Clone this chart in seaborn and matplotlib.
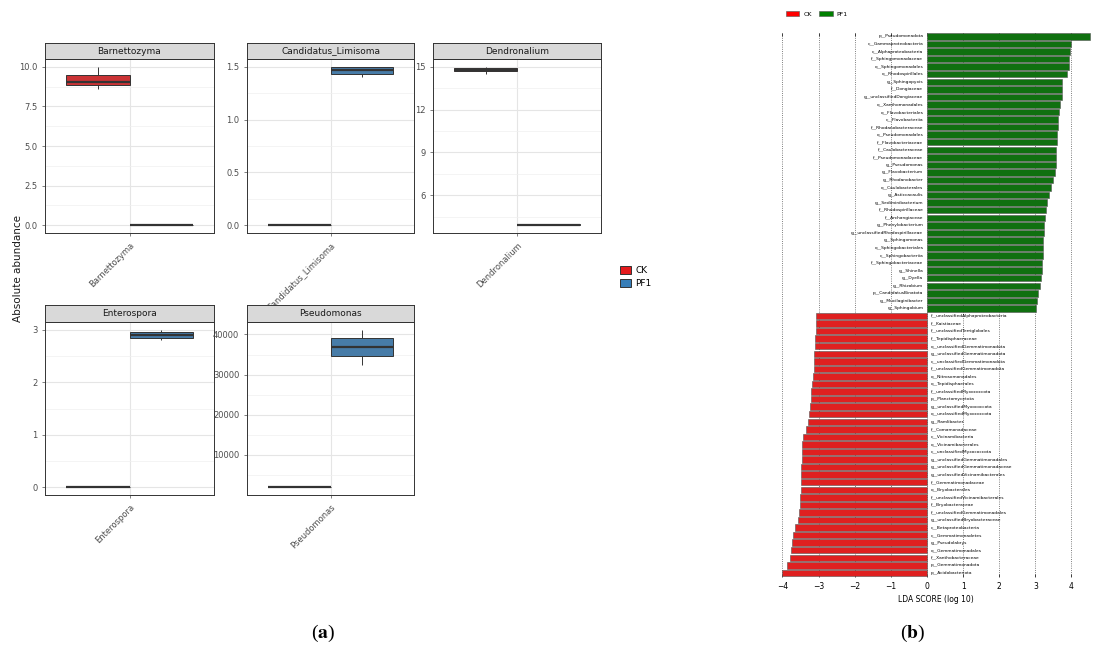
import numpy as np
import pandas as pd
import seaborn as sns
import matplotlib.pyplot as plt
from matplotlib.patches import Patch

# ---- panel (a): abundance per genus, five-number values per group ----
genera = ['Barnettozyma', 'Candidatus_Limisoma', 'Dendronalium', 'Enterospora', 'Pseudomonas']
ck_values = [
    [8.6, 8.85, 9.05, 9.5, 10.0],
    [0.0, 0.0, 0.0, 0.0, 0.0],
    [14.5, 14.7, 14.8, 14.9, 15.0],
    [0.0, 0.0, 0.0, 0.0, 0.0],
    [1950, 1980, 2000, 2020, 2050],
]
pf1_values = [
    [0.0, 0.0, 0.0, 0.0, 0.0],
    [1.40, 1.437, 1.47, 1.50, 1.50],
    [3.90, 3.92, 3.93, 3.95, 3.96],
    [2.80, 2.847, 2.90, 2.954, 3.0],
    [32400, 34600, 36900, 39100, 41150],
]
ytick_sets = [
    [0.0, 2.5, 5.0, 7.5, 10.0],
    [0.0, 0.5, 1.0, 1.5],
    [6, 9, 12, 15],
    [0, 1, 2, 3],
    [10000, 20000, 30000, 40000],
]
ytick_fmt = ['{:.1f}', '{:.1f}', '{:d}', '{:d}', '{:d}']

# ---- panel (b): LDA scores ----
pf1_features = ['p__Pseudomonadota', 'c__Gammaproteobacteria', 'c__Alphaproteobacteria',
                'f__Sphingomonadaceae', 'o__Sphingomonadales', 'o__Rhodospirillales',
                'g__Sphingopyxis', 'f__Dongiaceae', 'g__unclassifiedDongiaceae',
                'o__Xanthomonadales', 'o__Flavobacteriales', 'c__Flavobacteriia',
                'f__Rhodanobacteraceae', 'o__Pseudomonadales', 'f__Flavobacteriaceae',
                'f__Caulobacteraceae', 'f__Pseudomonadaceae', 'g__Pseudomonas',
                'g__Flavobacterium', 'g__Rhodanobacter', 'o__Caulobacterales',
                'g__Asticcacaulis', 'g__Sediminibacterium', 'f__Rhodospirillaceae',
                'f__Archangiaceae', 'g__Phenylobacterium', 'g__unclassifiedRhodospirillaceae',
                'g__Sphingomonas', 'o__Sphingobacteriales', 'c__Sphingobacteriia',
                'f__Sphingobacteriaceae', 'g__Shinella', 'g__Dyella', 'g__Rhizobium',
                'p__CandidatusBinatota', 'g__Mucilaginibacter', 'g__Sphingobium']
pf1_lda = [4.50, 3.98, 3.96, 3.94, 3.93, 3.88, 3.75, 3.74, 3.73, 3.68, 3.66, 3.64,
           3.62, 3.60, 3.59, 3.58, 3.57, 3.56, 3.54, 3.50, 3.42, 3.37, 3.33, 3.29,
           3.26, 3.25, 3.23, 3.22, 3.20, 3.20, 3.19, 3.17, 3.16, 3.14, 3.08, 3.05, 3.02]

ck_features = ['f__unclassifiedAlphaproteobacteria', 'f__Kaistiaceae', 'f__unclassifiedTerriglobales',
               'f__Tepidisphaeraceae', 'o__unclassifiedGemmatimonadota', 'g__unclassifiedGemmatimonadota',
               'c__unclassifiedGemmatimonadota', 'f__unclassifiedGemmatimonadota', 'o__Nitrosomonadales',
               'o__Tepidisphaerales', 'f__unclassifiedMyxococcota', 'p__Planctomycetota',
               'g__unclassifiedMyxococcota', 'o__unclassifiedMyxococcota', 'g__Ramlibacter',
               'f__Comamonadaceae', 'c__Vicinamibacteria', 'o__Vicinamibacterales',
               'c__unclassifiedMyxococcota', 'g__unclassifiedGemmatimonadales',
               'g__unclassifiedGemmatimonadaceae', 'g__unclassifiedVicinamibacterales',
               'f__Gemmatimonadaceae', 'o__Bryobacterales', 'f__unclassifiedVicinamibacterales',
               'f__Bryobacteraceae', 'f__unclassifiedGemmatimonadales', 'g__unclassifiedBryobacteraceae',
               'c__Betaproteobacteria', 'c__Gemmatimonadetes', 'g__Pseudolabrys',
               'o__Gemmatimonadales', 'f__Xanthobacteraceae', 'p__Gemmatimonadota', 'p__Acidobacteriota']
ck_lda = [-3.06, -3.06, -3.08, -3.10, -3.11, -3.12, -3.13, -3.14, -3.16, -3.17, -3.20,
          -3.22, -3.25, -3.26, -3.29, -3.34, -3.44, -3.45, -3.46, -3.47, -3.48, -3.49,
          -3.50, -3.50, -3.51, -3.51, -3.53, -3.56, -3.66, -3.70, -3.73, -3.76, -3.80,
          -3.88, -4.02]

red_a, blue_a = '#E41A1C', '#377EB8'
grey_txt = '#4D4D4D'

W, H = 1105, 651
fig = plt.figure(figsize=(W / 100, H / 100), dpi=100)


def px_axes(x0, y0, x1, y1):
    return fig.add_axes([x0 / W, 1 - y1 / H, (x1 - x0) / W, (y1 - y0) / H])


# facet boxes (pixel rectangles of the panels)
cols = [(45, 214), (247, 414), (433, 601)]
rows = [(43, 59, 233), (305, 322, 495)]

for k, genus in enumerate(genera):
    r, c = divmod(k, 3)
    x0, x1 = cols[c]
    s0, s1, y1 = rows[r]
    ax = px_axes(x0, s1, x1, y1)
    df = pd.DataFrame({
        'genus': genus,
        'group': ['CK'] * len(ck_values[k]) + ['PF1'] * len(pf1_values[k]),
        'value': ck_values[k] + pf1_values[k],
    })
    sns.boxplot(data=df, x='genus', y='value', hue='group', hue_order=['CK', 'PF1'],
                palette={'CK': red_a, 'PF1': blue_a}, width=0.9, gap=0,
                showcaps=False, linecolor='#333333', linewidth=0.7,
                medianprops={'linewidth': 1.6}, fliersize=0, legend=False, ax=ax)
    ticks = ytick_sets[k]
    ax.set_yticks(ticks)
    ax.set_yticklabels([ytick_fmt[k].format(t) for t in ticks])
    minors = [(a + b) / 2 for a, b in zip(ticks[:-1], ticks[1:])]
    minors = [ticks[0] - (ticks[1] - ticks[0]) / 2] + minors + [ticks[-1] + (ticks[1] - ticks[0]) / 2]
    ax.set_yticks(minors, minor=True)
    ax.tick_params(axis='y', which='minor', length=0)
    vmin, vmax = df['value'].min(), df['value'].max()
    pad = (vmax - vmin) * 0.05
    ax.set_ylim(vmin - pad, vmax + pad)
    ax.set_xlim(-0.6, 0.6)
    ax.grid(True, which='major', color='#E5E5E5', linewidth=0.8)
    ax.grid(True, which='minor', axis='y', color='#F0F0F0', linewidth=0.5)
    ax.set_axisbelow(True)
    ax.set_xlabel('')
    ax.set_ylabel('')
    ax.tick_params(labelsize=6, colors=grey_txt, length=2, width=0.5)
    plt.setp(ax.get_xticklabels(), rotation=45, ha='right', rotation_mode='anchor')
    for sp in ax.spines.values():
        sp.set_color('#333333')
        sp.set_linewidth(0.7)
    # strip
    st = px_axes(x0, s0, x1, s1)
    st.set_facecolor('#D9D9D9')
    st.set_xticks([])
    st.set_yticks([])
    for sp in st.spines.values():
        sp.set_color('#333333')
        sp.set_linewidth(0.7)
    st.text(0.5, 0.5, genus, ha='center', va='center', fontsize=6.5, color='#1A1A1A',
            transform=st.transAxes)

fig.text(18 / W, 1 - 269 / H, 'Absolute abundance', rotation=90, ha='center', va='center',
         fontsize=7.5, color='#1A1A1A')

fig.legend(handles=[Patch(facecolor=red_a, edgecolor='#333333', linewidth=0.7, label='CK'),
                    Patch(facecolor=blue_a, edgecolor='#333333', linewidth=0.7, label='PF1')],
           loc='center left', bbox_to_anchor=(612 / W, 1 - 277 / H), frameon=False,
           fontsize=6.5, handlelength=1.2, handleheight=1.0, labelspacing=0.4,
           handletextpad=0.5)

# ---- panel (b) ----
features = pf1_features + ck_features
lda = pf1_lda + ck_lda
df_b = pd.DataFrame({
    'feature': features,
    'lda': lda,
    'group': ['PF1'] * len(pf1_features) + ['CK'] * len(ck_features),
})

axb = px_axes(781, 33, 1091, 577)
sns.barplot(data=df_b, x='lda', y='feature', hue='group', order=features,
            palette={'CK': '#FF0000', 'PF1': '#008000'}, dodge=False, width=0.85,
            edgecolor='#555555', linewidth=0.4, legend=False, ax=axb)
axb.set_xlim(-4.04, 4.54)
axb.set_ylim(len(features) - 0.45, -0.45)
axb.set_yticks([])
axb.set_ylabel('')
axb.set_xticks(range(-4, 5))
axb.set_xticklabels(['\u22124', '\u22123', '\u22122', '\u22121', '0', '1', '2', '3', '4'])
axb.tick_params(axis='x', labelsize=5.5, length=2, width=0.5, top=True, direction='in')
axb.set_xlabel('LDA SCORE (log 10)', fontsize=5.5, labelpad=3)
axb.grid(True, axis='x', linestyle=':', color='#555555', linewidth=0.6)
axb.set_axisbelow(True)
for sp in axb.spines.values():
    sp.set_visible(False)
for i, (name, v) in enumerate(zip(features, lda)):
    if v > 0:
        axb.text(-0.1, i, name, ha='right', va='center', fontsize=3.2)
    else:
        axb.text(0.1, i, name, ha='left', va='center', fontsize=3.2)

fig.legend(handles=[Patch(facecolor='#FF0000', edgecolor='#555555', linewidth=0.4, label='CK'),
                    Patch(facecolor='#008000', edgecolor='#555555', linewidth=0.4, label='PF1')],
           loc='center left', bbox_to_anchor=(780 / W, 1 - 14 / H), ncol=2, frameon=False,
           fontsize=4.5, handlelength=2.2, handleheight=0.8, columnspacing=1.2,
           handletextpad=0.6)

# captions
plt.rcParams['mathtext.fontset'] = 'stix'
fig.text(323 / W, 1 - 633 / H, r'($\mathbf{a}$)', ha='center', va='center', fontsize=14,
         family='Liberation Serif')
fig.text(913 / W, 1 - 633 / H, r'($\mathbf{b}$)', ha='center', va='center', fontsize=14,
         family='Liberation Serif')

fig.savefig('out.png', dpi=100, facecolor='white')
